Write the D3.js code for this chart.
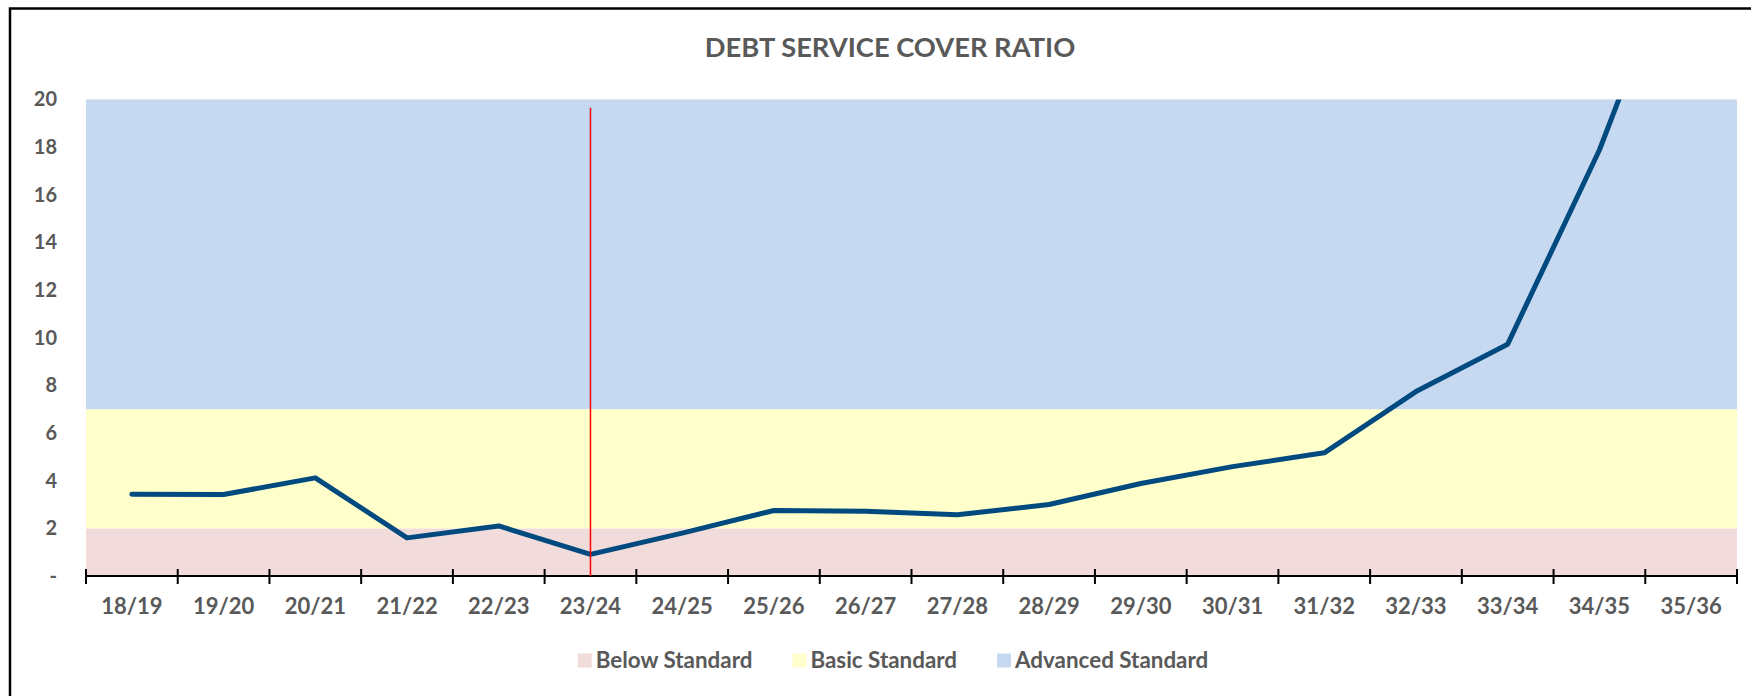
<!DOCTYPE html>
<html>
<head>
<meta charset="utf-8">
<script src="https://cdn.jsdelivr.net/npm/d3@7"></script>
<style>
  html, body { margin: 0; padding: 0; background: #ffffff; }
  svg { display: block; }
  text { font-family: Lato, "Open Sans", "Liberation Sans", sans-serif; font-weight: 700; fill: #595959; }
</style>
</head>
<body>
<svg id="chart" width="1751" height="696"></svg>
<script>
// Financial years on the category axis
const years = ["18/19","19/20","20/21","21/22","22/23","23/24","24/25","25/26","26/27",
               "27/28","28/29","29/30","30/31","31/32","32/33","33/34","34/35","35/36"];

// Debt service cover ratio for each year
const dscr = [3.43, 3.42, 4.12, 1.6, 2.1, 0.91, 1.8, 2.75, 2.72,
              2.57, 3.0, 3.88, 4.59, 5.17, 7.74, 9.73, 17.88, 27.9];

// Standard bands (lower and upper ratio limits)
const zoneNames  = ["Below Standard", "Basic Standard", "Advanced Standard"];
const zoneLower  = [0, 2, 7];
const zoneUpper  = [2, 7, 20];
const zoneColors = ["#f2dcdb", "#ffffcc", "#c6d9f0"];

// Marker for the current year
const currentYear = "23/24";
const markerRange = [0, 19.65];

// Value axis ticks
const yTicks = [0, 2, 4, 6, 8, 10, 12, 14, 16, 18, 20];

const svg = d3.select("#chart");
const W = 1751, H = 696;
const plot = { left: 86, right: 1737, top: 99.5, bottom: 576 };

svg.append("rect").attr("width", W).attr("height", H).attr("fill", "#ffffff");

// Outer chart frame (only top and left edges fall inside the page)
svg.append("path")
  .attr("d", `M10,${H + 5} L10,8.5 L${W + 5},8.5`)
  .attr("fill", "none").attr("stroke", "#000").attr("stroke-width", 2.5);

const x = d3.scaleBand().domain(years).range([plot.left, plot.right]).paddingInner(0).paddingOuter(0);
const y = d3.scaleLinear().domain([0, 20]).range([plot.bottom, plot.top]);
const cx = d => x(d) + x.bandwidth() / 2;

// Background bands
svg.append("g").selectAll("rect")
  .data(zoneNames.map((n, i) => ({ n, lo: zoneLower[i], hi: zoneUpper[i], c: zoneColors[i] })))
  .join("rect")
  .attr("x", plot.left)
  .attr("width", plot.right - plot.left)
  .attr("y", d => y(d.hi))
  .attr("height", d => y(d.lo) - y(d.hi))
  .attr("fill", d => d.c);

// Faint plot border on top
svg.append("line")
  .attr("x1", plot.left).attr("x2", plot.right)
  .attr("y1", y(20)).attr("y2", y(20))
  .attr("stroke", "#e3e6ea").attr("stroke-width", 1);

// Title
svg.append("text")
  .attr("x", 890).attr("y", 57)
  .attr("text-anchor", "middle")
  .style("font-size", "27.3px")
  .text("DEBT SERVICE COVER RATIO");

// Y axis labels
const yAxis = svg.append("g")
  .attr("transform", `translate(${plot.left},0)`)
  .call(d3.axisLeft(y).tickValues(yTicks).tickSize(0).tickPadding(29)
    .tickFormat(d => d === 0 ? "-" : d));
yAxis.select(".domain").remove();
yAxis.selectAll("text").style("font-size", "20px").style("font-family", null).attr("fill", "#595959");

// X axis: baseline, crossing tick marks at year boundaries, labels at centres
const xAxis = svg.append("g")
  .attr("transform", `translate(0,${plot.bottom})`)
  .call(d3.axisBottom(x).tickSize(0).tickPadding(22));
xAxis.select(".domain").remove();
xAxis.selectAll("text").style("font-size", "22px").style("font-family", null).attr("fill", "#595959");

const boundaries = years.map(d => x(d)).concat([x.range()[1]]);
svg.append("line")
  .attr("x1", plot.left).attr("x2", plot.right)
  .attr("y1", plot.bottom).attr("y2", plot.bottom)
  .attr("stroke", "#000").attr("stroke-width", 2);
svg.append("g").selectAll("line")
  .data(boundaries).join("line")
  .attr("x1", d => d).attr("x2", d => d)
  .attr("y1", plot.bottom - 7).attr("y2", plot.bottom + 8)
  .attr("stroke", "#000").attr("stroke-width", 2);

// Clip the ratio line to the plot area
svg.append("clipPath").attr("id", "plotClip")
  .append("rect")
  .attr("x", plot.left).attr("y", plot.top)
  .attr("width", plot.right - plot.left).attr("height", plot.bottom - plot.top);

const line = d3.line().x((d, i) => cx(years[i])).y(d => y(d));
svg.append("path")
  .datum(dscr)
  .attr("clip-path", "url(#plotClip)")
  .attr("d", line)
  .attr("fill", "none")
  .attr("stroke", "#004a80")
  .attr("stroke-width", 5)
  .attr("stroke-linejoin", "round")
  .attr("stroke-linecap", "round");

// Current year marker
svg.append("line")
  .attr("x1", cx(currentYear)).attr("x2", cx(currentYear))
  .attr("y1", y(markerRange[0])).attr("y2", y(markerRange[1]))
  .attr("stroke", "#ff0000").attr("stroke-width", 1.5);

// Legend, centred under the chart
const legend = svg.append("g");
let lx = 0;
zoneNames.forEach((n, i) => {
  if (i > 0) lx += 40;
  legend.append("rect")
    .attr("x", lx).attr("y", 653.5).attr("width", 14).attr("height", 14)
    .attr("fill", zoneColors[i]);
  const t = legend.append("text")
    .attr("x", lx + 18).attr("y", 668)
    .style("font-size", "22.4px")
    .text(n);
  lx += 18 + t.node().getComputedTextLength();
});
legend.attr("transform", `translate(${893 - lx / 2},0)`);
</script>
</body>
</html>
